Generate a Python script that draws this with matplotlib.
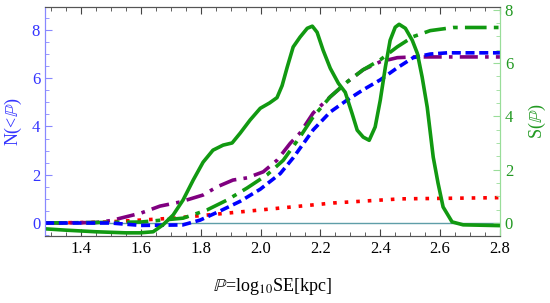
import numpy as np
import matplotlib
matplotlib.use('Agg')
import matplotlib.pyplot as plt
from matplotlib.ticker import MultipleLocator

plt.rcParams['font.family'] = ['Liberation Serif', 'DejaVu Serif', 'DejaVu Sans']
plt.rcParams['mathtext.fontset'] = 'stix'

# S(P) density, right axis
s_x = [1.28, 1.35, 1.45, 1.55, 1.597, 1.641, 1.674, 1.708, 1.741, 1.775, 1.808,
       1.841, 1.875, 1.905, 1.932, 1.965, 1.999, 2.03, 2.055, 2.072, 2.089, 2.109,
       2.132, 2.156, 2.173, 2.189, 2.209, 2.233, 2.26, 2.283, 2.306, 2.323, 2.343,
       2.363, 2.383, 2.4, 2.417, 2.433, 2.45, 2.463, 2.484, 2.507, 2.524, 2.54,
       2.557, 2.577, 2.593, 2.61, 2.64, 2.677, 2.8]
s_y = [-0.22, -0.27, -0.33, -0.37, -0.37, -0.33, -0.07, 0.3, 0.86, 1.61, 2.28,
       2.73, 2.92, 3.0, 3.37, 3.86, 4.3, 4.5, 4.7, 5.15, 5.84, 6.6,
       6.97, 7.3, 7.38, 7.15, 6.48, 5.8, 5.24, 4.9, 4.1, 3.48, 3.22,
       3.1, 3.6, 4.6, 5.84, 6.85, 7.34, 7.45, 7.3, 6.85, 6.36, 5.47,
       4.34, 2.47, 1.5, 0.6, 0.04, -0.07, -0.1]

# cumulative curves, left axis
blue_x = [1.28, 1.5, 1.6, 1.74, 1.798, 1.865, 1.932, 1.999, 2.066, 2.109, 2.176,
          2.233, 2.29, 2.343, 2.4, 2.457, 2.51, 2.567, 2.624, 2.8]
blue_y = [0.0, 0.0, -0.1, -0.08, 0.12, 0.5, 0.9, 1.4, 2.05, 2.7, 3.86,
          4.6, 5.1, 5.52, 5.93, 6.43, 6.85, 7.0, 7.05, 7.05]

purple_x = [1.28, 1.45, 1.5, 1.6, 1.664, 1.731, 1.808, 1.855, 1.908, 1.955, 2.009,
            2.055, 2.099, 2.132, 2.176, 2.233, 2.29, 2.343, 2.4, 2.457, 2.51, 2.8]
purple_y = [0.0, 0.02, 0.1, 0.41, 0.7, 0.87, 1.16, 1.5, 1.78, 1.87, 2.12,
            2.6, 3.3, 3.73, 4.56, 5.23, 5.85, 6.35, 6.68, 6.85, 6.88, 6.88]

green_x = [1.28, 1.6, 1.741, 1.821, 1.888, 1.955, 2.022, 2.076, 2.132, 2.176, 2.233,
           2.29, 2.343, 2.4, 2.457, 2.51, 2.567, 2.644, 2.8]
green_y = [0.0, 0.04, 0.2, 0.54, 0.95, 1.45, 2.0, 2.6, 3.57, 4.4, 5.23,
           5.85, 6.35, 6.76, 7.3, 7.72, 7.97, 8.1, 8.1]

red_x = [1.28, 1.467, 1.597, 1.708, 1.821, 1.932, 2.066, 2.243, 2.467, 2.8]
red_y = [0.0, 0.03, 0.12, 0.2, 0.33, 0.46, 0.62, 0.83, 1.0, 1.05]

blue_txt = '#3333ff'
green_txt = '#229922'

fig = plt.figure(figsize=(5.5, 3.03), dpi=100)
ax = fig.add_axes([0.082, 0.221, 0.827, 0.756])
ax2 = ax.twinx()

ax.axhline(0, color='#5f9ea8', lw=1.0, zorder=1)
ax.plot(red_x, red_y, color='#ff0000', lw=2.6, ls=(0, (1, 2.2)))
ax.plot(purple_x, purple_y, color='#800080', lw=2.6, ls=(0, (5, 2, 1, 2)))
ax.plot(green_x, green_y, color='#119911', lw=2.6, ls=(0, (6, 2, 1.3, 2)))
ax.plot(blue_x, blue_y, color='#0000ff', lw=2.6, ls=(0, (2.5, 1.3)))
ax2.plot(s_x, s_y, color='#119911', lw=2.6, solid_capstyle='round',
         solid_joinstyle='round')

ax.set_xlim(1.28, 2.8)
ax.set_ylim(-0.54, 8.95)
ax2.set_ylim(-0.49, 8.1)

ax.xaxis.set_major_locator(MultipleLocator(0.2))
ax.xaxis.set_minor_locator(MultipleLocator(0.05))
ax.yaxis.set_major_locator(MultipleLocator(2))
ax.yaxis.set_minor_locator(MultipleLocator(0.5))
ax2.yaxis.set_major_locator(MultipleLocator(2))
ax2.yaxis.set_minor_locator(MultipleLocator(0.5))

ax.tick_params(axis='x', which='both', top=True, direction='in', colors='#444444',
               labelcolor='black', labelsize=12)
ax.tick_params(axis='x', which='major', length=5)
ax.tick_params(axis='x', which='minor', length=3)
ax.tick_params(axis='y', which='both', direction='in', colors='#8888ff',
               labelcolor=blue_txt, labelsize=12)
ax.tick_params(axis='y', which='major', length=5)
ax.tick_params(axis='y', which='minor', length=3)
ax2.tick_params(axis='y', which='both', direction='in', colors='#99dd99',
                labelcolor=green_txt, labelsize=12)
ax2.tick_params(axis='y', which='major', length=5)
ax2.tick_params(axis='y', which='minor', length=3)

ax.xaxis.set_major_formatter(plt.FuncFormatter(lambda v, p: '%.1f' % v))

for a in (ax, ax2):
    a.spines['top'].set_color('#555555')
    a.spines['bottom'].set_color('#555555')
    a.spines['left'].set_color('#8888ff')
    a.spines['right'].set_color('#99dd99')

ax.set_ylabel(r'N(<$\mathbb{P}$)', color=blue_txt, fontsize=13, labelpad=6)
ax2.set_ylabel(r'S($\mathbb{P}$)', color=green_txt, fontsize=13, labelpad=10)
ax.set_xlabel(r'$\mathbb{P}$=log$_{10}$SE[kpc]', fontsize=13, labelpad=14)

fig.savefig('out.png', dpi=100)
